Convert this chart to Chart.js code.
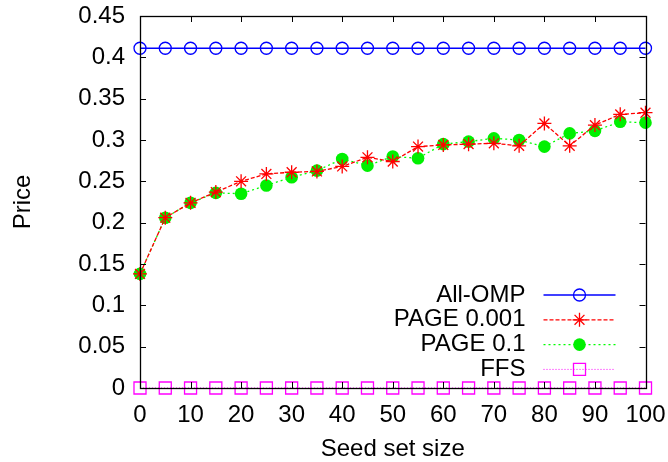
<!DOCTYPE html>
<html>
<head>
<meta charset="utf-8">
<script src="https://cdn.jsdelivr.net/npm/chart.js@4"></script>
<style>
html,body{margin:0;padding:0;background:#fff;overflow:hidden}
#wrap{width:668px;height:462px;position:relative}
</style>
</head>
<body>
<div id="wrap"><canvas id="c"></canvas></div>
<script>
const seedSizes = [0,5,10,15,20,25,30,35,40,45,50,55,60,65,70,75,80,85,90,95,100];
const allOmp   = [0.411,0.411,0.411,0.411,0.411,0.411,0.411,0.411,0.411,0.411,0.411,0.411,0.411,0.411,0.411,0.411,0.411,0.411,0.411,0.411,0.411];
const page0001 = [0.138,0.206,0.224,0.237,0.250,0.259,0.261,0.262,0.268,0.279,0.274,0.292,0.294,0.295,0.296,0.293,0.320,0.293,0.318,0.331,0.333];
const page01   = [0.138,0.206,0.224,0.236,0.235,0.245,0.255,0.263,0.277,0.269,0.280,0.278,0.295,0.298,0.302,0.300,0.292,0.308,0.311,0.322,0.321];
const ffs      = [0,0,0,0,0,0,0,0,0,0,0,0,0,0,0,0,0,0,0,0,0];
const yTicks = [0,0.05,0.1,0.15,0.2,0.25,0.3,0.35,0.4,0.45];
const FONT = "'Liberation Sans', Arial, sans-serif";
const FS = 24;

const pts = arr => arr.map((v,i)=>({x:seedSizes[i], y:v}));

// frame, inward mirrored ticks, and gnuplot-style legend (text left of sample)
const gnuplotLook = {
  id:"gnuplotLook",
  afterDatasetsDraw(chart){
    const {ctx, chartArea:a, scales:{x,y}} = chart;
    ctx.save();
    ctx.strokeStyle="#000"; ctx.lineWidth=1;
    ctx.beginPath();
    x.ticks.forEach(t=>{ const px=Math.round(x.getPixelForValue(t.value))+0.5;
      ctx.moveTo(px,a.bottom); ctx.lineTo(px,a.bottom-6); ctx.moveTo(px,a.top); ctx.lineTo(px,a.top+6); });
    y.ticks.forEach(t=>{ const py=Math.round(y.getPixelForValue(t.value))+0.5;
      ctx.moveTo(a.left,py); ctx.lineTo(a.left+6,py); ctx.moveTo(a.right,py); ctx.lineTo(a.right-6,py); });
    ctx.stroke();
    ctx.lineWidth=1.3;
    ctx.strokeRect(Math.round(a.left)+0.5, Math.round(a.top)+0.5, Math.round(a.right-a.left), Math.round(a.bottom-a.top));
    // legend
    const textRight=a.right-120, x0=a.right-102, x1=a.right-30, xm=(x0+x1)/2;
    let ry=a.bottom-93;
    ctx.font=FS+"px "+FONT; ctx.textAlign="right"; ctx.textBaseline="middle";
    chart.data.datasets.forEach(ds=>{
      ctx.fillStyle="#000"; ctx.fillText(ds.label, textRight, ry);
      ctx.strokeStyle=ds.borderColor; ctx.lineWidth=ds.borderWidth; ctx.setLineDash(ds.borderDash||[]);
      ctx.beginPath(); ctx.moveTo(x0,ry); ctx.lineTo(x1,ry); ctx.stroke(); ctx.setLineDash([]);
      ctx.fillStyle=ds.pointBackgroundColor; ctx.strokeStyle=ds.pointBorderColor; ctx.lineWidth=ds.pointBorderWidth||1;
      ctx.beginPath();
      if(ds.pointStyle==="circle"){ ctx.arc(xm,ry,ds.pointRadius,0,Math.PI*2); ctx.fill(); if(ds.pointBorderWidth) ctx.stroke(); }
      else if(ds.pointStyle==="rect"){ const s=ds.pointRadius*Math.SQRT1_2; ctx.rect(xm-s,ry-s,2*s,2*s); ctx.stroke(); }
      else { const r=ds.pointRadius, d=r*Math.SQRT1_2;
        ctx.moveTo(xm-r,ry); ctx.lineTo(xm+r,ry); ctx.moveTo(xm,ry-r); ctx.lineTo(xm,ry+r);
        ctx.moveTo(xm-d,ry-d); ctx.lineTo(xm+d,ry+d); ctx.moveTo(xm-d,ry+d); ctx.lineTo(xm+d,ry-d); ctx.stroke(); }
      ry+=24.8;
    });
    ctx.restore();
  }
};

new Chart(document.getElementById("c"), {
  type:"line",
  data:{ datasets:[
    {label:"All-OMP", data:pts(allOmp), borderColor:"#0000ff", borderWidth:1.5, pointStyle:"circle", pointRadius:6, pointBorderWidth:1.3, pointBackgroundColor:"rgba(0,0,0,0)", pointBorderColor:"#0000ff", clip:false},
    {label:"PAGE 0.001", data:pts(page0001), borderColor:"#ff0000", borderWidth:1.3, borderDash:[4,2], pointStyle:"star", pointRadius:7, pointBorderWidth:1.3, pointBackgroundColor:"#ff0000", pointBorderColor:"#ff0000", clip:false},
    {label:"PAGE 0.1", data:pts(page01), borderColor:"#00ff00", borderWidth:1.3, borderDash:[2,3], pointStyle:"circle", pointRadius:6.3, pointBorderWidth:0, pointBackgroundColor:"#00f000", pointBorderColor:"#00f000", clip:false},
    {label:"FFS", data:pts(ffs), borderColor:"#ff00ff", borderWidth:1, borderDash:[1,2], pointStyle:"rect", pointRadius:8.5, pointBorderWidth:1.3, pointBackgroundColor:"rgba(0,0,0,0)", pointBorderColor:"#ff00ff", clip:false}
  ]},
  options:{
    responsive:true, maintainAspectRatio:false, animation:false,
    layout:{padding:{top:16,right:22.5,left:0,bottom:0}},
    plugins:{legend:{display:false}, tooltip:{enabled:false}},
    elements:{line:{tension:0}},
    scales:{
      x:{type:"linear", min:0, max:100,
        afterFit:s=>{ s.height=74; s.paddingLeft=0; s.paddingRight=0; },
        ticks:{stepSize:10, color:"#000", font:{family:FONT,size:FS}, padding:13, maxRotation:0},
        grid:{display:false, drawTicks:false}, border:{display:false},
        title:{display:true, text:"Seed set size", color:"#000", font:{family:FONT,size:FS,lineHeight:1}, padding:{top:0,bottom:1}}},
      y:{min:0, max:0.45,
        afterFit:s=>{ s.width=140; s.paddingTop=0; s.paddingBottom=0; },
        afterBuildTicks:s=>{ s.ticks=yTicks.map(v=>({value:v})); },
        ticks:{color:"#000", font:{family:FONT,size:FS}, padding:15, callback:v=>String(Number(v.toFixed(2)))},
        grid:{display:false, drawTicks:false}, border:{display:false},
        title:{display:true, text:"Price", color:"#000", font:{family:FONT,size:FS,lineHeight:1}, padding:{top:11,bottom:0}}}
    }
  },
  plugins:[gnuplotLook]
});
</script>
</body>
</html>
